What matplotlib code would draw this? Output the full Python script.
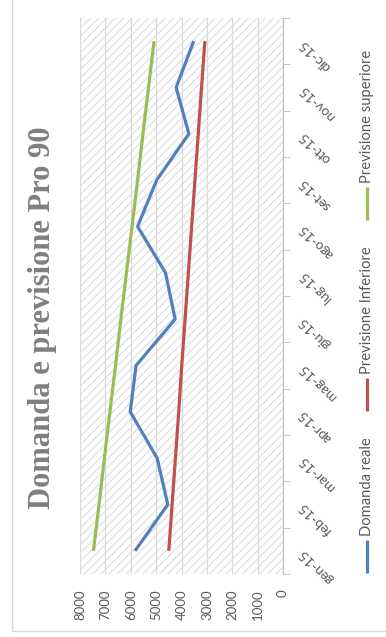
import numpy as np
import matplotlib
matplotlib.use("Agg")
import matplotlib.pyplot as plt
from matplotlib.patches import Rectangle
from matplotlib.lines import Line2D

# dati (ruotato di 90 gradi)
mesi = ["gen-15", "feb-15", "mar-15", "apr-15", "mag-15", "giu-15",
        "lug-15", "ago-15", "set-15", "ott-15", "nov-15", "dic-15"]
domanda_reale = [5830, 4540, 4960, 6020, 5790, 4250, 4630, 5730, 4980, 3710, 4210, 3520]
prev_inferiore = [4500, 4370, 4240, 4110, 3990, 3860, 3730, 3600, 3470, 3340, 3210, 3080]
prev_superiore = [7470, 7250, 7040, 6820, 6600, 6390, 6170, 5950, 5730, 5520, 5300, 5080]
valori_tick = [0, 1000, 2000, 3000, 4000, 5000, 6000, 7000, 8000]

serie = [("Domanda reale", domanda_reale, "#4f81bd"),
         ("Previsione Inferiore", prev_inferiore, "#c0504d"),
         ("Previsione superiore", prev_superiore, "#9bbb59")]

plt.rcParams['font.family'] = ['Lato', 'DejaVu Sans']
plt.rcParams['hatch.color'] = '#dcdcdc'
plt.rcParams['hatch.linewidth'] = 0.8

W, H = 386, 637
fig = plt.figure(figsize=(W / 100, H / 100), dpi=100)
fig.patch.set_facecolor('white')

# area del grafico in pixel
x0, x1, y0, y1 = 80, 283, 18, 574
ax = fig.add_axes([x0 / W, 1 - y1 / H, (x1 - x0) / W, (y1 - y0) / H])

ax.add_patch(Rectangle((0, 0), 1, 1, transform=ax.transAxes, facecolor='white',
                       edgecolor='#dcdcdc', hatch='////', lw=0, zorder=0))

pos = np.arange(len(mesi))
for nome, vals, col in serie:
    ax.plot(vals, pos, color=col, lw=2.3, solid_capstyle='butt', zorder=3)

ax.set_xlim(8000, 0)
ax.set_ylim(-0.5, len(mesi) - 0.5)
ax.set_xticks(valori_tick)
ax.set_xticklabels([str(v) for v in valori_tick], rotation=90, fontsize=9.5,
                   color='#595959')
ax.tick_params(axis='x', length=0, pad=11)
for v in valori_tick:
    ax.axvline(v, color='#d9d9d9', lw=0.9, zorder=1)

ax.yaxis.tick_right()
ax.set_yticks(pos)
ax.set_yticklabels(mesi, fontsize=9.8, color='#595959', rotation=135,
                   rotation_mode='anchor', ha='right', va='center')
ax.tick_params(axis='y', length=0, pad=13)
ax.set_yticks(np.arange(-0.5, len(mesi)), minor=True)
ax.tick_params(axis='y', which='minor', length=5, color='#bfbfbf', direction='out')

for s in ['top', 'bottom', 'left']:
    ax.spines[s].set_visible(False)
ax.spines['right'].set_color('#bfbfbf')
ax.spines['right'].set_linewidth(0.9)

# titolo
fig.text(43 / W, 1 - 318 / H, "Domanda e previsione Pro 90", rotation=90,
         ha='center', va='center', fontsize=22, fontweight='bold',
         color='#7f7f7f', family='Liberation Serif')

# legenda verticale
leg_x = 367
leg_y = [573, 411, 220]
for (nome, vals, col), yb in zip(serie, leg_y):
    fig.add_artist(Line2D([leg_x / W, leg_x / W], [1 - yb / H, 1 - (yb - 33) / H],
                          color=col, lw=2.3, solid_capstyle='butt'))
    fig.text(leg_x / W, 1 - (yb - 37) / H, nome, rotation=90, rotation_mode='anchor',
             ha='left', va='center', fontsize=10.6, color='#595959')

# bordo esterno
fig.add_artist(Rectangle((12.5 / W, 1 - 630.5 / H), 1, 1, transform=fig.transFigure,
                         fill=False, edgecolor='#d9d9d9', lw=1))

fig.savefig("out.png", dpi=100)
